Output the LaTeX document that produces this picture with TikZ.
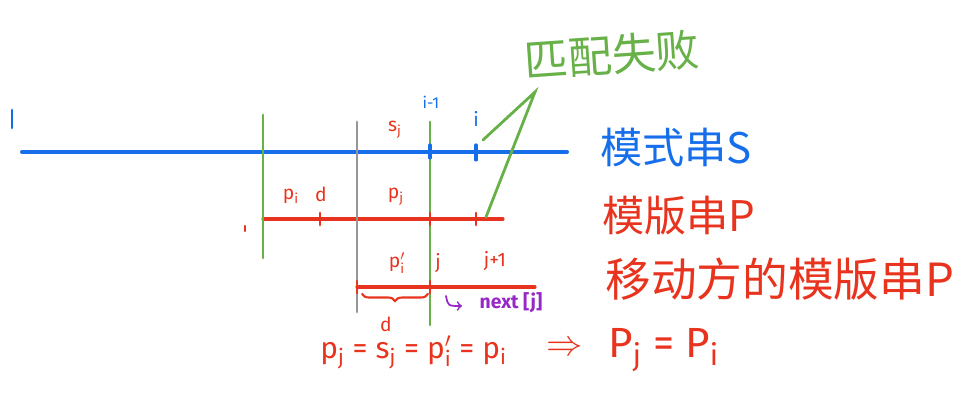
\documentclass[tikz,border=0pt]{standalone}
\usepackage{fontspec}
\setmainfont{Fira Sans}
\newfontfamily\cjk{Noto Sans CJK SC}
\usetikzlibrary{decorations.pathreplacing}
\definecolor{sblue}{RGB}{22,110,235}
\definecolor{pred}{RGB}{232,52,30}
\definecolor{mgreen}{RGB}{104,176,72}
\definecolor{sgray}{RGB}{150,150,150}
\definecolor{npurple}{RGB}{150,40,200}
\newcommand{\pv}[2]{$\mathrm{#1}_{\mathrm{#2}}$}

\begin{document}
\begin{tikzpicture}[x=0.02cm,y=-0.02cm,line cap=round,
  lbl/.style={inner sep=0pt,font=\fontsize{11}{12}\selectfont},
  big/.style={inner sep=0pt,anchor=west,font=\cjk\fontsize{24}{26}\selectfont}]
\useasboundingbox (0,0) rectangle (968,404);
%----------------------------------------------------------
	% Ends of the lines
	%------------------------------------------------------
	\coordinate (SL) at (22,152);
	\coordinate (SR) at (567,152);
	\coordinate (PL) at (263,219);
	\coordinate (PR) at (503,219);
	\coordinate (QL) at (357,287);
	\coordinate (QR) at (535,287);
	\coordinate (GaT) at (263,115);
	\coordinate (GaB) at (263,258);
	\coordinate (GrT) at (357,122);
	\coordinate (GrB) at (357,312);
	\coordinate (GbT) at (430,122);
	\coordinate (GbB) at (430,325);
	\coordinate (Apex) at (535,92);
	\coordinate (FailS) at (483,140);
	\coordinate (FailP) at (486,217);

	%Labels
	%------------------------------------------------------
	\node[lbl,text=sblue,font=\fontsize{9}{10}\selectfont] (im1) at (431,102) {i-1};
	\node[lbl,text=sblue] (si) at (476,119) {i};
	\node[lbl,text=pred] (sj) at (395,130) {\pv{s}{j}};
	\node[lbl,text=pred] (pi) at (291,196) {\pv{p}{i}};
	\node[lbl,text=pred] (pd) at (321,194) {d};
	\node[lbl,text=pred] (pj) at (396,197) {\pv{p}{j}};
	\node[lbl,text=pred] (qi) at (397,263) {$\mathrm{p}'_{\mathrm{i}}$};
	\node[lbl,text=pred] (qj) at (438,263) {j};
	\node[lbl,text=pred] (qj1) at (495,261) {j+1};
	\node[lbl,text=pred] (qd) at (386,324) {d};
	\node[lbl,text=npurple,font=\bfseries\fontsize{11}{12}\selectfont] (nx) at (511,303) {next [j]};

	\node[big,text=sblue] (S) at (600,148) {模式串S};
	\node[big,text=pred] (P) at (602,216) {模版串P};
	\node[big,text=pred,font=\cjk\fontsize{26}{28}\selectfont] (Pm) at (605,279) {移动方的模版串P};
	\node[inner sep=0pt,text=mgreen,rotate=4,font=\cjk\fontsize{25}{26}\selectfont] (fail) at (612,55) {匹配失败};

	\node[inner sep=0pt,text=pred,font=\fontsize{17}{18}\selectfont,anchor=west] (eq) at (320,352) {\pv{p}{j} = \pv{s}{j} = $\mathrm{p}'_{\mathrm{i}}$ = \pv{p}{i}};
	\node[inner sep=0pt,text=pred,font=\fontsize{22}{24}\selectfont] (imp) at (565,349) {$\Rightarrow$};
	\node[inner sep=0pt,text=pred,font=\fontsize{24}{26}\selectfont,anchor=west] (res) at (608,350) {\pv{P}{j} = \pv{P}{i}};

	%Lines
	%------------------------------------------------------
	\draw[sblue,line width=2.3pt] (SL) -- (SR);
	\draw[sblue,line width=1.6pt] (12,110) -- (12,128);
	\draw[pred,line width=1.8pt] (PL) -- (PR);
	\draw[pred,line width=1.8pt] (QL) -- (QR);
	\draw[pred,line width=1.4pt] (245,226) -- (245,231);

	%Borders
	%------------------------------------------------------
	\draw[mgreen,line width=1.7pt] (GaT) -- (GaB);
	\draw[sgray,line width=1.7pt] (GrT) -- (GrB);
	\draw[mgreen,line width=1.7pt] (GbT) -- (GbB);

	%Ticks
	%------------------------------------------------------
	\draw[sblue,line width=1.8pt] (430,145) -- (430,158);
	\draw[sblue,line width=1.8pt] (476,145) -- (476,160);
	\draw[pred,line width=1.6pt] (320,213) -- (320,225);
	\draw[pred,line width=1.6pt] (430,213) -- (430,225);
	\draw[pred,line width=1.6pt] (476,213) -- (476,225);
	\draw[pred,line width=1.6pt] (357,281) -- (357,293);
	\draw[pred,line width=1.6pt] (430,281) -- (430,293);

	%Brace and next
	%------------------------------------------------------
	\draw[pred,line width=1.2pt,decorate,decoration={brace,mirror,amplitude=4pt}] (362,294) -- (428,294);
	\draw[npurple,line width=1pt,->] (446,296) .. controls (448,306) .. (462,306);

	%Mismatch
	%------------------------------------------------------
	\draw[mgreen,line width=1.6pt] (FailS) -- (Apex) -- (FailP);
\end{tikzpicture}
\end{document}
